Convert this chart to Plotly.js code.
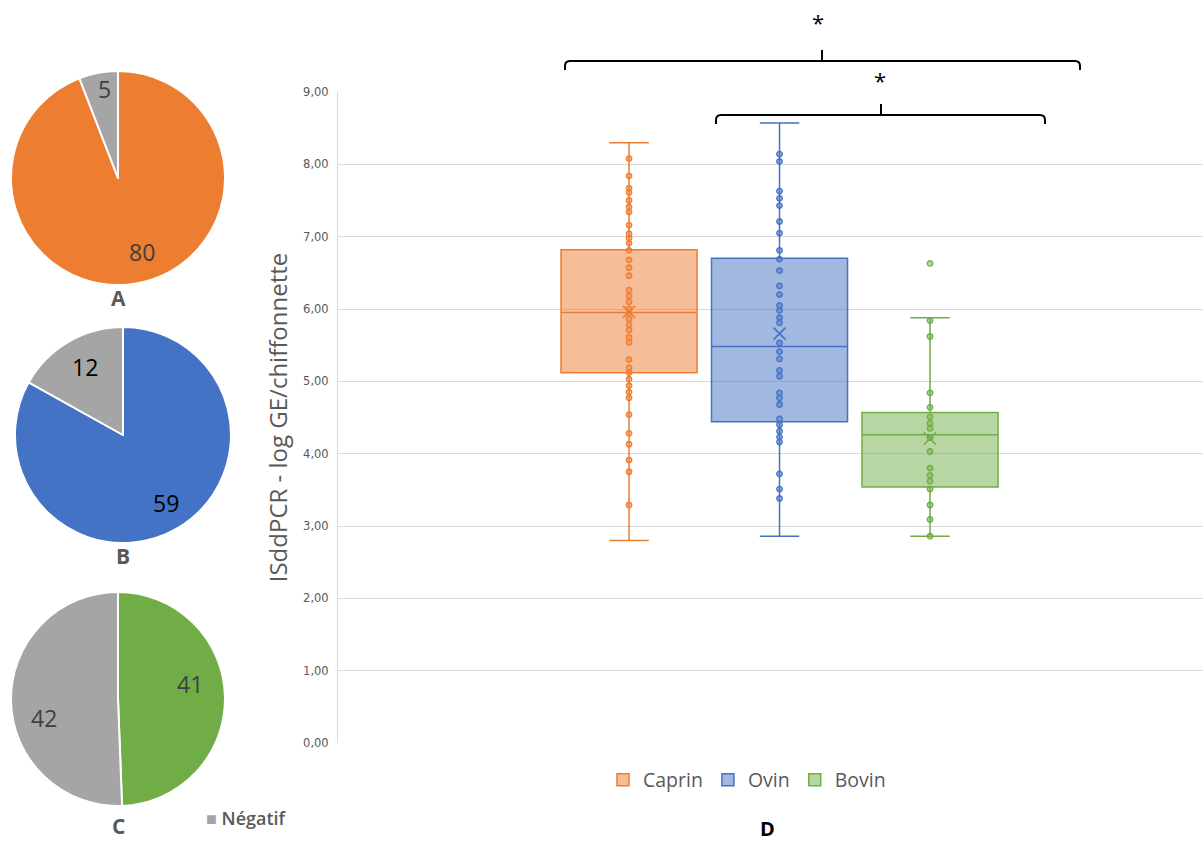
<!DOCTYPE html>
<html>
<head>
<meta charset="utf-8">
<script src="https://cdn.plot.ly/plotly-3.0.1.min.js"></script>
<style>html,body{margin:0;padding:0;background:#fff;}#chart{width:1203px;height:843px;}</style>
</head>
<body>
<div id="chart"></div>
<script>
// ---------- DATA ----------
const pieLabels = ['Positif', 'Négatif'];
const pieA = [80, 5];
const pieB = [59, 12];
const pieC = [41, 42];
const pieNames = ['A', 'B', 'C'];

const groups = ['Caprin', 'Ovin', 'Bovin'];
const q1s = [5.12, 4.44, 3.54];
const medians = [5.95, 5.48, 4.26];
const q3s = [6.82, 6.70, 4.57];
const lowers = [2.80, 2.86, 2.86];
const uppers = [8.30, 8.57, 5.88];
const means = [5.96, 5.66, 4.21];

const caprinPts = [8.08, 7.84, 7.67, 7.61, 7.50, 7.41, 7.34, 7.16, 7.04, 6.98, 6.91, 6.81, 6.68, 6.57, 6.46,
  6.26, 6.18, 6.10, 6.00, 5.94, 5.86, 5.78, 5.71, 5.61, 5.54, 5.30, 5.19, 5.12, 5.03, 4.94, 4.85, 4.77,
  4.54, 4.28, 4.13, 3.91, 3.75, 3.29];
const ovinPts = [8.14, 8.04, 7.63, 7.53, 7.43, 7.21, 7.05, 6.81, 6.69, 6.53, 6.32, 6.20, 6.05, 5.98, 5.88,
  5.81, 5.53, 5.41, 5.31, 5.15, 5.07, 4.84, 4.77, 4.68, 4.48, 4.40, 4.31, 4.23, 4.16, 3.72, 3.51, 3.38];
const bovinPts = [6.63, 5.84, 5.62, 4.84, 4.64, 4.51, 4.42, 4.35, 4.22, 4.03, 3.80, 3.70, 3.62, 3.51,
  3.29, 3.09, 2.86];
const groupPts = [caprinPts, ovinPts, bovinPts];

const yTickVals = [0, 1, 2, 3, 4, 5, 6, 7, 8, 9];

// ---------- STYLE ----------
const W = 1203, H = 843;
const px = x => x / W;
const py = y => 1 - y / H;
const mainColors = ['#ED7D31', '#4472C4', '#70AD47'];
const fillColors = ['rgba(237,125,49,0.5)', 'rgba(68,114,196,0.5)', 'rgba(112,173,71,0.5)'];
const grey = '#A5A5A5';
const font = 'Open Sans, Noto Sans, sans-serif';

const traces = [];
groups.forEach((g, i) => {
  traces.push({
    type: 'box', name: g, x: [i],
    q1: [q1s[i]], median: [medians[i]], q3: [q3s[i]],
    lowerfence: [lowers[i]], upperfence: [uppers[i]],
    boxpoints: false, width: 0.904, whiskerwidth: 0.29,
    line: {color: mainColors[i], width: 1.5}, fillcolor: fillColors[i],
    xaxis: 'x', yaxis: 'y', hoverinfo: 'skip'
  });
});
groups.forEach((g, i) => {
  traces.push({
    type: 'scatter', mode: 'markers', showlegend: false, hoverinfo: 'skip',
    x: groupPts[i].map(() => i), y: groupPts[i],
    marker: {symbol: 'circle', size: 5.5, color: fillColors[i], line: {color: mainColors[i], width: 1.3}}
  });
  traces.push({
    type: 'scatter', mode: 'markers', showlegend: false, hoverinfo: 'skip',
    x: [i], y: [means[i]],
    marker: {symbol: 'x-thin-open', size: 12, color: mainColors[i], line: {color: mainColors[i], width: 1.6}}
  });
});

const pieData = [pieA, pieB, pieC];
const pieColors = [[mainColors[0], grey], [mainColors[1], grey], [mainColors[2], grey]];
const pieTextColors = [['#404040', '#404040'], ['#000000', '#000000'], ['#404040', '#404040']];
const pieDomains = [
  {x: [px(11), px(225)], y: [py(285), py(71)]},
  {x: [px(15), px(231)], y: [py(543), py(327)]},
  {x: [px(11), px(225)], y: [py(806), py(592)]}
];
// label anchor positions (pixels) for each slice value
const pieTextPos = [
  [[142, 252], [104, 89]],
  [[166, 503], [85, 367]],
  [[190, 684], [44, 718]]
];
const letterPos = [[118, 298], [123, 556], [118, 826]];

pieData.forEach((vals, i) => {
  traces.push({
    type: 'pie', labels: pieLabels, values: vals, sort: false, direction: 'clockwise', rotation: 0,
    marker: {colors: pieColors[i], line: {color: '#ffffff', width: 2}},
    textinfo: 'none',
    domain: pieDomains[i], showlegend: false, hoverinfo: 'skip'
  });
});

function bracket(x1, x2, xm, y, drop, rise) {
  const r = 5;
  return 'M ' + px(x1) + ' ' + py(y + drop) +
    ' L ' + px(x1) + ' ' + py(y + r) +
    ' Q ' + px(x1) + ' ' + py(y) + ' ' + px(x1 + r) + ' ' + py(y) +
    ' L ' + px(x2 - r) + ' ' + py(y) +
    ' Q ' + px(x2) + ' ' + py(y) + ' ' + px(x2) + ' ' + py(y + r) +
    ' L ' + px(x2) + ' ' + py(y + drop) +
    ' M ' + px(xm) + ' ' + py(y) + ' L ' + px(xm) + ' ' + py(y - rise);
}

function ann(text, x, y, size, color, extra) {
  return Object.assign({
    text: text, x: px(x), y: py(y), xref: 'paper', yref: 'paper',
    xanchor: 'center', yanchor: 'middle', showarrow: false,
    font: {family: font, size: size, color: color}
  }, extra || {});
}

const annotations = [
  ann('*', 818, 22, 22, '#000'),
  ann('*', 880, 80, 22, '#000'),
  ann('<b>D</b>', 767, 828, 20, '#000'),
  {text: '<span style="color:' + grey + '">■</span> ' + pieLabels[1], x: px(204), y: py(818), xref: 'paper', yref: 'paper',
   xanchor: 'left', yanchor: 'middle', showarrow: false, font: {family: font, size: 18, color: '#595959', weight: 600}}
];
pieData.forEach((vals, i) => {
  annotations.push(ann('<b>' + pieNames[i] + '</b>', letterPos[i][0], letterPos[i][1], 21, '#595959'));
  vals.forEach((v, j) => {
    annotations.push(ann(String(v), pieTextPos[i][j][0], pieTextPos[i][j][1], 23, pieTextColors[i][j]));
  });
});

const layout = {
  width: W, height: H,
  margin: {l: 0, r: 0, t: 0, b: 0},
  paper_bgcolor: '#ffffff', plot_bgcolor: '#ffffff',
  separators: ', ',
  font: {family: font, color: '#595959'},
  showlegend: true,
  hovermode: false,
  xaxis: {
    domain: [338 / W, 1], range: [-1.934, 3.814],
    showticklabels: false, showgrid: false, zeroline: false, showline: false, ticks: ''
  },
  yaxis: {
    domain: [py(743), py(92)], range: [0, 9],
    tickvals: yTickVals, tickformat: '.2f',
    showgrid: true, gridcolor: '#d9d9d9', gridwidth: 1,
    zeroline: false, showline: true, linecolor: '#d9d9d9', linewidth: 1,
    ticks: 'outside', ticklen: 6, tickcolor: 'rgba(0,0,0,0)',
    tickfont: {family: 'DejaVu Sans, sans-serif', size: 11.5, color: '#595959'},
    title: {text: 'ISddPCR - log GE/chiffonnette', font: {family: font, size: 24, color: '#595959'}, standoff: 8}
  },
  legend: {
    orientation: 'h', x: px(747), xanchor: 'center', y: py(780), yanchor: 'middle',
    font: {family: font, size: 19.5, color: '#595959'}, itemwidth: 30, traceorder: 'normal'
  },
  shapes: [
    {type: 'path', xref: 'paper', yref: 'paper', path: bracket(565, 1080, 822, 61, 9, 11), line: {color: '#000', width: 2}},
    {type: 'path', xref: 'paper', yref: 'paper', path: bracket(716, 1045, 881, 115, 9, 11), line: {color: '#000', width: 2}}
  ],
  annotations: annotations
};

Plotly.newPlot('chart', traces, layout, {displayModeBar: false, staticPlot: true});
</script>
</body>
</html>
